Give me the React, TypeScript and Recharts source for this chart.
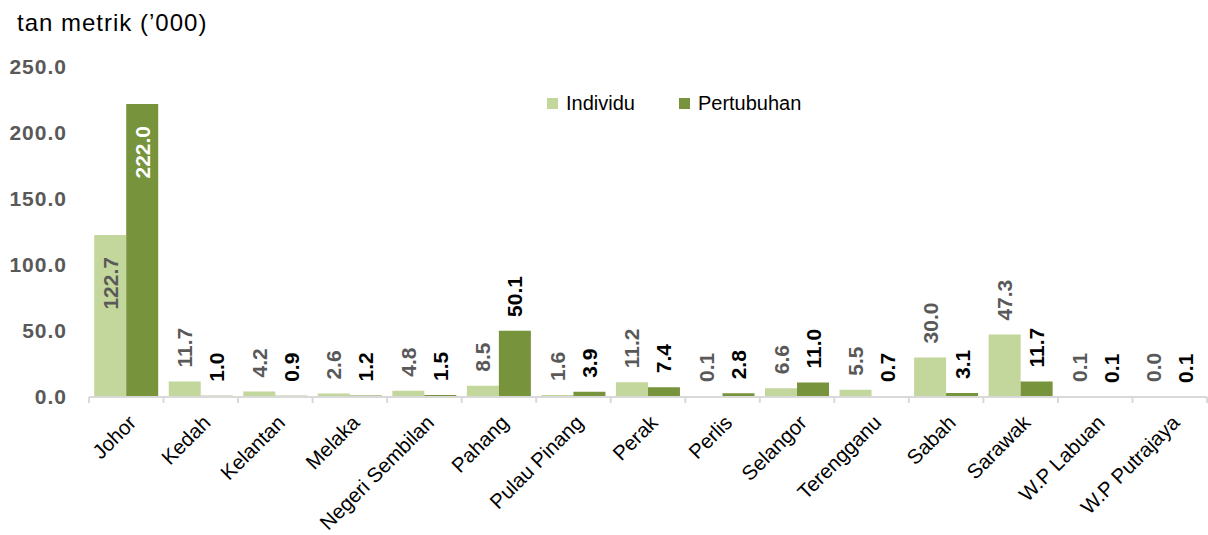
import React from 'react';
import { BarChart, Bar, XAxis, YAxis, Legend, LabelList } from 'recharts';

// Tan metrik ('000) mengikut negeri — individu vs pertubuhan
const negeri = [
  'Johor', 'Kedah', 'Kelantan', 'Melaka', 'Negeri Sembilan', 'Pahang', 'Pulau Pinang',
  'Perak', 'Perlis', 'Selangor', 'Terengganu', 'Sabah', 'Sarawak', 'W.P Labuan', 'W.P Putrajaya',
];
const individu = [122.7, 11.7, 4.2, 2.6, 4.8, 8.5, 1.6, 11.2, 0.1, 6.6, 5.5, 30.0, 47.3, 0.1, 0.0];
const pertubuhan = [222.0, 1.0, 0.9, 1.2, 1.5, 50.1, 3.9, 7.4, 2.8, 11.0, 0.7, 3.1, 11.7, 0.1, 0.1];
const yTicks = [0, 50, 100, 150, 200, 250];

const C = {
  light: '#c3d69b',
  dark: '#77933c',
  axis: '#d9d9d9',
  grey: '#595959',
  ink: '#000000',
};
const FONT = '"Liberation Sans", Arial, sans-serif';
const PLOT_W = 1118; // 1208 - paksi Y (89) - kanan (1)

const data = negeri.map((name, i) => ({ name, individu: individu[i], pertubuhan: pertubuhan[i] }));

function makeLabel(outColor: string, inColor: string) {
  return (props: any) => {
    const { x, y, width, value } = props;
    const cx = x + width / 2;
    const inside = value > 100;
    const ty = inside ? y + 22 : y - 14;
    return (
      <text
        x={cx}
        y={ty}
        transform={`rotate(-90 ${cx} ${ty})`}
        textAnchor={inside ? 'end' : 'start'}
        dominantBaseline="central"
        fill={inside ? inColor : outColor}
        fontSize={21}
        fontWeight="bold"
        fontFamily={FONT}
      >
        {Number(value).toFixed(1)}
      </text>
    );
  };
}

// label senget + garis tanda di sempadan kategori (bukan di tengah)
function NegeriTick(props: any) {
  const { x, y, payload, index } = props;
  const half = payload?.offset || PLOT_W / negeri.length / 2;
  const tx = x + 11;
  const ty = y + 27;
  return (
    <g>
      <line x1={x - half} y1={y} x2={x - half} y2={y + 6} stroke={C.axis} strokeWidth={2} />
      {index === negeri.length - 1 ? (
        <line x1={x + half} y1={y} x2={x + half} y2={y + 6} stroke={C.axis} strokeWidth={2} />
      ) : null}
      <text
        x={tx}
        y={ty}
        transform={`rotate(-45 ${tx} ${ty})`}
        textAnchor="end"
        fontSize={20.5}
        fill={C.ink}
        fontFamily={FONT}
      >
        {payload.value}
      </text>
    </g>
  );
}

function LegendBox({ payload }: any) {
  return (
    <div style={{ display: 'flex', gap: 44, fontSize: 20, fontFamily: FONT, color: C.ink }}>
      {(payload || []).map((p: any) => (
        <span key={p.value} style={{ display: 'flex', alignItems: 'center' }}>
          <span style={{ width: 11, height: 11, background: p.color, marginRight: 8, display: 'inline-block' }} />
          {p.value}
        </span>
      ))}
    </div>
  );
}

export default function App() {
  return (
    <div style={{ position: 'relative', width: 1208, height: 535, background: '#fff', fontFamily: FONT }}>
      <style>{'body{margin:0}'}</style>
      <div style={{ position: 'absolute', left: 17, top: 9, fontSize: 24, letterSpacing: 1, color: C.ink }}>
        tan metrik (’000)
      </div>
      <BarChart
        width={1208}
        height={535}
        data={data}
        margin={{ top: 67, right: 1, left: 0, bottom: 0 }}
        barCategoryGap="7%"
        barGap={0}
      >
        <XAxis
          dataKey="name"
          interval={0}
          height={138}
          axisLine={{ stroke: C.axis, strokeWidth: 2 }}
          tickLine={false}
          tickSize={0}
          tickMargin={0}
          tick={<NegeriTick />}
        />
        <YAxis
          domain={[0, 250]}
          ticks={yTicks}
          width={89}
          axisLine={false}
          tickLine={false}
          tickSize={0}
          tickMargin={22}
          tickFormatter={(v: number) => v.toFixed(1)}
          tick={{ fill: C.grey, fontSize: 21, fontWeight: 'bold', fontFamily: FONT, letterSpacing: 1 }}
        />
        <Legend
          verticalAlign="middle"
          align="center"
          layout="horizontal"
          content={<LegendBox />}
          wrapperStyle={{ top: 92, left: 547, width: 'auto' }}
        />
        <Bar dataKey="individu" name="Individu" fill={C.light} minPointSize={1} isAnimationActive={false}>
          <LabelList dataKey="individu" content={makeLabel(C.grey, C.grey)} />
        </Bar>
        <Bar dataKey="pertubuhan" name="Pertubuhan" fill={C.dark} isAnimationActive={false}>
          <LabelList dataKey="pertubuhan" content={makeLabel(C.ink, '#ffffff')} />
        </Bar>
      </BarChart>
    </div>
  );
}
